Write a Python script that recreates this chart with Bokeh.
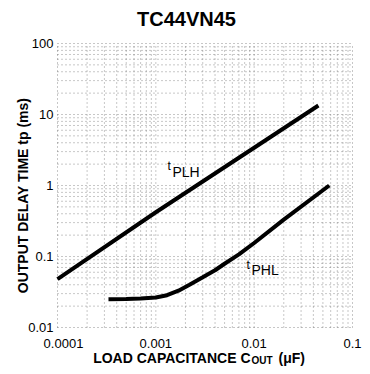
import math
from bokeh.plotting import figure
from bokeh.models import Label
from bokeh.core.properties import value
from bokeh.embed import file_html
from bokeh.resources import INLINE

# ---- data ----
title_text = "TC44VN45"
y_label_text = "OUTPUT DELAY TIME tp (ms)"
x_tick_values = [0.0001, 0.001, 0.01, 0.1]
x_tick_labels = ["0.0001", "0.001", "0.01", "0.1"]
y_tick_values = [0.01, 0.1, 1, 10, 100]
y_tick_labels = ["0.01", "0.1", "1", "10", "100"]

tplh_c = [0.0001, 0.001, 0.01, 0.045]
tplh_t = [0.048, 0.42, 3.4, 13.4]

tphl_c = [0.00033, 0.0005, 0.0007, 0.001, 0.0013, 0.0017, 0.0022, 0.003,
          0.004, 0.005, 0.007, 0.01, 0.02, 0.058]
tphl_t = [0.025, 0.0252, 0.0256, 0.0265, 0.0285, 0.033, 0.040, 0.051,
          0.064, 0.079, 0.107, 0.155, 0.33, 1.0]

# ---- layout (canvas pixels of the chart's domain box) ----
W, H = 362, 366
L, R, T, B = 57, 352, 43, 327

xlo, xhi = math.log10(x_tick_values[0]), math.log10(x_tick_values[-1])
ylo, yhi = math.log10(y_tick_values[0]), math.log10(y_tick_values[-1])
pxd = (R - L) / (xhi - xlo)
pyd = (B - T) / (yhi - ylo)

p = figure(x_axis_type="log", y_axis_type="log",
           x_range=(10 ** (xlo - L / pxd), 10 ** (xhi + (W - R) / pxd)),
           y_range=(10 ** (ylo - (H - B) / pyd), 10 ** (yhi + T / pyd)),
           width=W, height=H, output_backend="svg", toolbar_location=None,
           x_axis_location=None, y_axis_location=None,
           min_border=0)
p.outline_line_color = None
p.xgrid.visible = False
p.ygrid.visible = False
p.background_fill_color = "white"
p.border_fill_color = "white"

def decade_lines(vals):
    lo = int(round(math.log10(vals[0])))
    hi = int(round(math.log10(vals[-1])))
    return [m * 10.0 ** e for e in range(lo, hi) for m in range(1, 10)] + [vals[-1]]

# log grid (major + minor), dotted
gx = decade_lines(x_tick_values)
gy = decade_lines(y_tick_values)
p.segment(x0=gx, y0=[y_tick_values[0]] * len(gx), x1=gx, y1=[y_tick_values[-1]] * len(gx),
          line_color="#555555", line_dash="1 3", line_alpha=0.65, line_width=1)
p.segment(x0=[x_tick_values[0]] * len(gy), y0=gy, x1=[x_tick_values[-1]] * len(gy), y1=gy,
          line_color="#555555", line_dash="1 3", line_alpha=0.65, line_width=1)

# tick labels
p.text(x=x_tick_values, y=[y_tick_values[0]] * len(x_tick_values), text=x_tick_labels,
       y_offset=11, x_offset=[6, 0, 0, 0], text_align="center", text_baseline="top",
       text_font=value("Liberation Sans"), text_font_size="13px", text_color="black")
p.text(x=[x_tick_values[0]] * len(y_tick_values), y=y_tick_values, text=y_tick_labels,
       x_offset=-4, text_align="right", text_baseline="middle",
       text_font=value("Liberation Sans"), text_font_size="13px", text_color="black")

# curves
p.line(tplh_c, tplh_t, line_width=4, color="black")
p.line(tphl_c, tphl_t, line_width=4, color="black")

# text placement helpers (canvas pixel -> data)
def px2x(xi):
    return 10 ** (xlo + (xi - L) / pxd)

def px2y(yi):
    return 10 ** (yhi - (yi - T) / pyd)

FONT = "Liberation Sans"

def lab(text, xi, yi, size, bold=False, align="left", angle=0.0):
    p.add_layout(Label(x=px2x(xi), y=px2y(yi), text=text, text_font=FONT,
                       text_font_size=size, text_font_style="bold" if bold else "normal",
                       text_align=align, text_baseline="middle", angle=angle,
                       text_color="black"))

# title
lab(title_text, 186, 18, "20px", bold=True, align="center")
# y axis label
lab(y_label_text, 22, 195, "14px", bold=True, align="center", angle=math.pi / 2)
# x axis label with subscript
lab("LOAD CAPACITANCE C", 250, 357, "14px", bold=True, align="right")
lab("OUT", 251, 360, "10px", bold=True, align="left")
lab("(\u03bcF)", 278, 357, "14px", bold=True, align="left")
# curve labels
lab("t", 167, 165, "12px")
lab("PLH", 172, 171, "14px")
lab("t", 246, 264, "12px")
lab("PHL", 251, 269, "14px")

open("out.html", "w").write(file_html(p, INLINE))
